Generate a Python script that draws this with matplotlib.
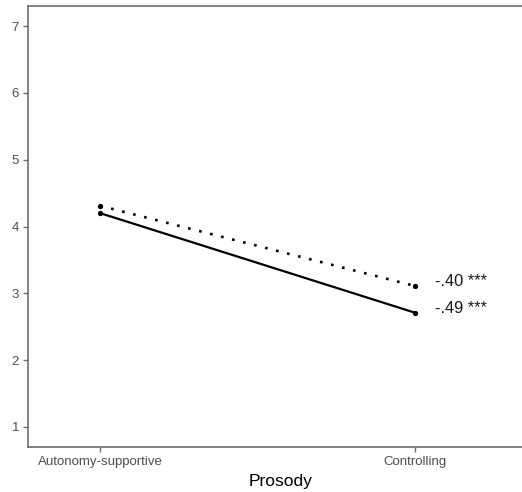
import matplotlib
matplotlib.use("Agg")
import matplotlib.pyplot as plt

categories = ["Autonomy-supportive", "Controlling"]
solid_vals = [4.2, 2.71]
dotted_vals = [4.31, 3.11]
labels = ["-.49 ***", "-.40 ***"]
yticks = [1, 2, 3, 4, 5, 6, 7]

plt.rcParams['font.family'] = ['Liberation Sans', 'DejaVu Sans']

fig = plt.figure(figsize=(5.22, 4.92), dpi=100)
ax = fig.add_axes([28/522, 45/492, (534-28)/522, 441/492])

x = [1, 2]
ax.plot(x, solid_vals, color='black', lw=1.6, marker='o', ms=2.8, solid_capstyle='round')
ax.plot(x, dotted_vals, color='black', lw=1.9, linestyle=(0, (1, 3.3)), marker='o', ms=2.8)

ax.text(2.065, solid_vals[1] + 0.06, labels[0], fontsize=11.8, va='center', ha='left', color='#1a1a1a')
ax.text(2.065, dotted_vals[1] + 0.06, labels[1], fontsize=11.8, va='center', ha='left', color='#1a1a1a')

ax.set_xlim(0.771, 2.378)
ax.set_ylim(0.7, 7.3)
ax.set_xticks(x)
ax.set_xticklabels(categories)
ax.set_yticks(yticks)
ax.set_xlabel("Prosody", fontsize=12.5, labelpad=4, color='black')

for s in ['top', 'right', 'left', 'bottom']:
    ax.spines[s].set_color('#6e6e6e')
    ax.spines[s].set_linewidth(1.2)
ax.tick_params(axis='both', colors='#6e6e6e', labelcolor='#4d4d4d', labelsize=9.5, length=3.5, width=1.0, direction='out')
ax.tick_params(axis='x', pad=3)
ax.tick_params(axis='y', pad=3)

fig.savefig("out.png", dpi=100)
